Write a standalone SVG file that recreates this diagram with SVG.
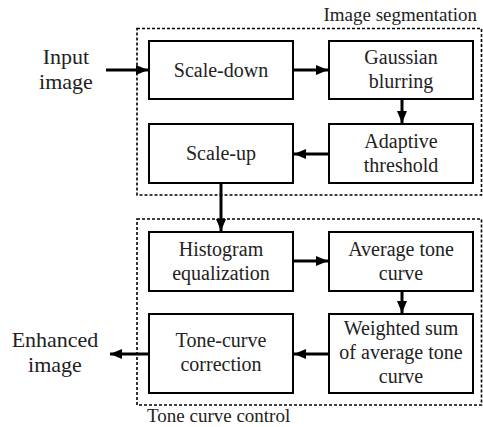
<svg xmlns="http://www.w3.org/2000/svg" width="483" height="427" viewBox="0 0 483 427" font-family="Liberation Serif, Times New Roman, DejaVu Serif, serif">
<defs>
<marker id="ah" viewBox="0 0 12 10" refX="12" refY="5" markerWidth="12" markerHeight="10" markerUnits="userSpaceOnUse" orient="auto">
<path d="M0,0 L12,5 L0,10 Z" fill="#000"/>
</marker>
<style>
.box{fill:#fff;stroke:#000;stroke-width:2}
.grp{fill:none;stroke:#000;stroke-width:1.6;stroke-dasharray:3 2}
text{fill:#222}
.t{font-size:20px;text-anchor:middle}
.io{font-size:22px}
.lbl{font-size:19px}
.c{fill:none;stroke:#000;stroke-width:3;marker-end:url(#ah)}
</style>
</defs>
<g id="group-segmentation">
<rect class="grp" x="137" y="28.5" width="344.5" height="166.5"/>
<text class="lbl" x="477" y="21" text-anchor="end" font-family="Liberation Serif">Image segmentation</text>
</g>
<g id="group-tone">
<rect class="grp" x="137" y="219" width="344.5" height="186"/>
<text class="lbl" x="147" y="422">Tone curve control</text>
</g>
<g id="input">
<text class="t io" x="66" y="64">Input</text>
<text class="t io" x="66" y="89">image</text>
</g>
<g id="output">
<text class="t io" x="55" y="347">Enhanced</text>
<text class="t io" x="55" y="372">image</text>
</g>
<g id="scale-down">
<rect class="box" x="149" y="41" width="144" height="58"/>
<text class="t" x="221" y="77">Scale-down</text>
</g>
<g id="gaussian">
<rect class="box" x="329" y="41" width="144" height="58"/>
<text class="t" x="401" y="64">Gaussian</text>
<text class="t" x="401" y="88">blurring</text>
</g>
<g id="scale-up">
<rect class="box" x="149" y="124" width="144" height="59"/>
<text class="t" x="221" y="160">Scale-up</text>
</g>
<g id="adaptive">
<rect class="box" x="329" y="124" width="144" height="59"/>
<text class="t" x="401" y="148">Adaptive</text>
<text class="t" x="401" y="172">threshold</text>
</g>
<g id="histogram">
<rect class="box" x="149" y="232" width="144" height="59"/>
<text class="t" x="221" y="256">Histogram</text>
<text class="t" x="221" y="280">equalization</text>
</g>
<g id="average">
<rect class="box" x="329" y="232" width="144" height="59"/>
<text class="t" x="401" y="256">Average tone</text>
<text class="t" x="401" y="280">curve</text>
</g>
<g id="tone-correction">
<rect class="box" x="149" y="314" width="144" height="79"/>
<text class="t" x="221" y="347">Tone-curve</text>
<text class="t" x="221" y="371">correction</text>
</g>
<g id="weighted">
<rect class="box" x="329" y="314" width="144" height="79"/>
<text class="t" x="401" y="335">Weighted sum</text>
<text class="t" x="401" y="359">of average tone</text>
<text class="t" x="401" y="383">curve</text>
</g>
<g id="connectors">
<line class="c" x1="106" y1="70" x2="148" y2="70"/>
<line class="c" x1="294" y1="70" x2="328" y2="70"/>
<line class="c" x1="402" y1="100" x2="402" y2="123"/>
<line class="c" x1="328" y1="154" x2="294" y2="154"/>
<line class="c" x1="221" y1="184" x2="221" y2="231"/>
<line class="c" x1="294" y1="261" x2="328" y2="261"/>
<line class="c" x1="402" y1="292" x2="402" y2="313"/>
<line class="c" x1="328" y1="354" x2="294" y2="354"/>
<line class="c" x1="148" y1="354" x2="110" y2="354"/>
</g>
</svg>
